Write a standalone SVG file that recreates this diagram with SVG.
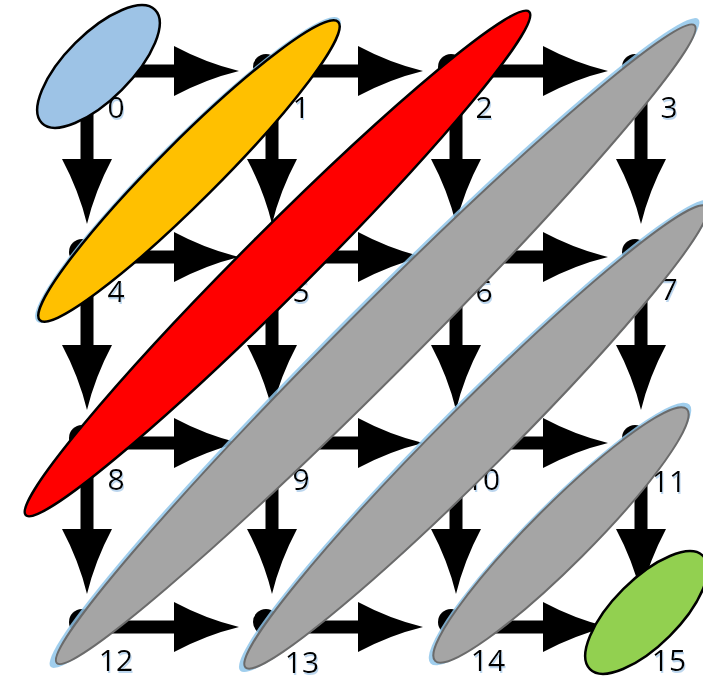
<svg xmlns="http://www.w3.org/2000/svg" xmlns:xlink="http://www.w3.org/1999/xlink" width="703" height="681" viewBox="0 0 703 681">
<style>
.ln{stroke:#000;stroke-width:13;fill:none}
.hd{fill:#000}
.dot{fill:#000}
.lbl{font-family:"Open Sans","Noto Sans",sans-serif;font-size:30px;text-anchor:middle;fill:#000;filter:url(#ts)}
.bk{stroke:#000;stroke-width:2.5}
.gr{fill:#a5a5a5;stroke:#6b6b6b;stroke-width:2}
.glow{fill:#8fc6ea;opacity:0.85}
</style>
<defs>
<path id="ah" d="M0,0 Q-33,-8 -65,-25 L-65,25 Q-33,8 0,0Z"/>
<filter id="ts" x="-20%" y="-20%" width="150%" height="150%"><feDropShadow dx="1" dy="2" stdDeviation="0.6" flood-color="#bcd6ee"/></filter>
</defs>
<rect width="703" height="681" fill="#fff"/>
<g id="connectors">
<path class="ln" d="M87,71H185 M272,71H370 M456,71H555 M87,257H185 M272,257H370 M456,257H555 M87,443H185 M272,443H370 M456,443H555 M87,627H185 M272,627H370 M456,627H555"/>
<path class="ln" d="M87,71V170 M87,257V356 M87,443V540 M272,71V170 M272,257V356 M272,443V540 M456,71V170 M456,257V356 M456,443V540 M641,71V170 M641,257V356 M641,443V540"/>
<g class="hd">
<use href="#ah" transform="translate(239,71)"/>
<use href="#ah" transform="translate(423,71)"/>
<use href="#ah" transform="translate(608,71)"/>
<use href="#ah" transform="translate(239,257)"/>
<use href="#ah" transform="translate(423,257)"/>
<use href="#ah" transform="translate(608,257)"/>
<use href="#ah" transform="translate(239,443)"/>
<use href="#ah" transform="translate(423,443)"/>
<use href="#ah" transform="translate(608,443)"/>
<use href="#ah" transform="translate(239,627)"/>
<use href="#ah" transform="translate(423,627)"/>
<use href="#ah" transform="translate(608,627)"/>
<use href="#ah" transform="translate(87,224) rotate(90)"/>
<use href="#ah" transform="translate(87,410) rotate(90)"/>
<use href="#ah" transform="translate(87,594) rotate(90)"/>
<use href="#ah" transform="translate(272,224) rotate(90)"/>
<use href="#ah" transform="translate(272,410) rotate(90)"/>
<use href="#ah" transform="translate(272,594) rotate(90)"/>
<use href="#ah" transform="translate(456,224) rotate(90)"/>
<use href="#ah" transform="translate(456,410) rotate(90)"/>
<use href="#ah" transform="translate(456,594) rotate(90)"/>
<use href="#ah" transform="translate(641,224) rotate(90)"/>
<use href="#ah" transform="translate(641,410) rotate(90)"/>
<use href="#ah" transform="translate(641,594) rotate(90)"/>
</g>
</g>
<g id="node0"><circle class="dot" cx="82" cy="67" r="13"/><text class="lbl" x="116" y="118">0</text></g>
<g id="node1"><circle class="dot" cx="266" cy="67" r="13"/><text class="lbl" x="301" y="118">1</text></g>
<g id="node2"><circle class="dot" cx="451" cy="67" r="13"/><text class="lbl" x="484" y="118">2</text></g>
<g id="node3"><circle class="dot" cx="635" cy="67" r="13"/><text class="lbl" x="669" y="118">3</text></g>
<g id="node4"><circle class="dot" cx="82" cy="252" r="13"/><text class="lbl" x="116" y="302">4</text></g>
<g id="node5"><circle class="dot" cx="266" cy="252" r="13"/><text class="lbl" x="301" y="302">5</text></g>
<g id="node6"><circle class="dot" cx="451" cy="252" r="13"/><text class="lbl" x="484" y="302">6</text></g>
<g id="node7"><circle class="dot" cx="635" cy="252" r="13"/><text class="lbl" x="669" y="300">7</text></g>
<g id="node8"><circle class="dot" cx="82" cy="438" r="13"/><text class="lbl" x="116" y="490">8</text></g>
<g id="node9"><circle class="dot" cx="266" cy="438" r="13"/><text class="lbl" x="301" y="490">9</text></g>
<g id="node10"><circle class="dot" cx="451" cy="438" r="13"/><text class="lbl" x="483" y="490">10</text></g>
<g id="node11"><circle class="dot" cx="635" cy="438" r="13"/><text class="lbl" x="669" y="492">11</text></g>
<g id="node12"><circle class="dot" cx="82" cy="622" r="13"/><text class="lbl" x="116" y="671">12</text></g>
<g id="node13"><circle class="dot" cx="266" cy="622" r="13"/><text class="lbl" x="302" y="673">13</text></g>
<g id="node14"><circle class="dot" cx="451" cy="622" r="13"/><text class="lbl" x="488" y="671">14</text></g>
<g id="node15"><circle class="dot" cx="635" cy="622" r="13"/><text class="lbl" x="669" y="671">15</text></g>
<g id="group0"><ellipse cx="98.5" cy="66.5" rx="80" ry="33" transform="rotate(-45 98.5 66.5)" fill="#9dc3e6" class="bk"/></g>
<g id="group1"><ellipse class="glow" cx="188" cy="170" rx="214" ry="31" transform="rotate(-45 188 170)"/><ellipse cx="189" cy="171" rx="211" ry="30" transform="rotate(-45 189 171)" fill="#ffc000" class="bk"/></g>
<g id="group2"><ellipse cx="277.5" cy="263.5" rx="356" ry="33" transform="rotate(-45 277.5 263.5)" fill="#ff0000" class="bk"/></g>
<g id="group3"><ellipse class="glow" cx="374.5" cy="343" rx="458" ry="37" transform="rotate(-45 374.5 343)"/><ellipse class="gr" cx="375.75" cy="344.25" rx="451" ry="35" transform="rotate(-45 375.75 344.25)"/></g>
<g id="group4"><ellipse class="glow" cx="475" cy="436" rx="332" ry="35" transform="rotate(-45 475 436)"/><ellipse class="gr" cx="476" cy="437" rx="326" ry="33" transform="rotate(-45 476 437)"/></g>
<g id="group5"><ellipse class="glow" cx="560" cy="534" rx="183" ry="31" transform="rotate(-45 560 534)"/><ellipse class="gr" cx="561" cy="535" rx="178" ry="30" transform="rotate(-45 561 535)"/></g>
<g id="group6"><ellipse cx="646.5" cy="612.5" rx="80" ry="33" transform="rotate(-45 646.5 612.5)" fill="#92d050" class="bk"/></g>
</svg>
